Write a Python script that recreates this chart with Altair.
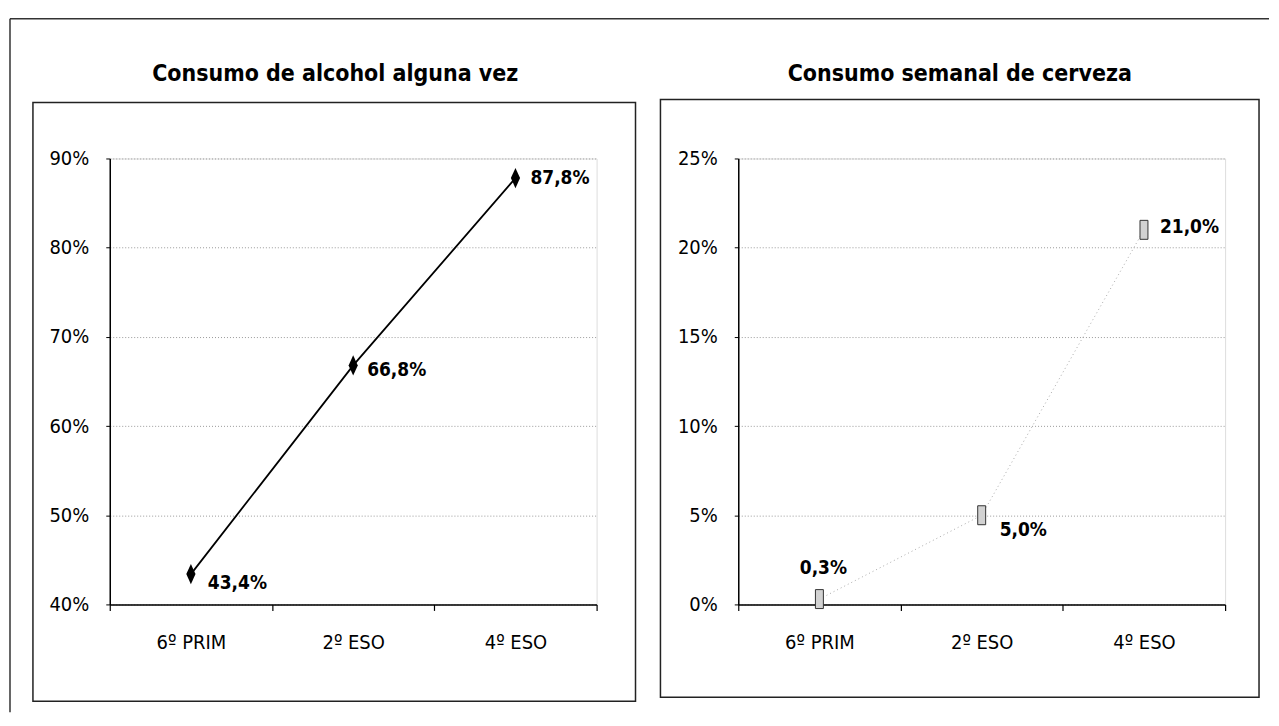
import altair as alt
import pandas as pd

# ---- data ----
grades = ["6º PRIM", "2º ESO", "4º ESO"]
alcohol = [43.4, 66.8, 87.8]
cerveza = [0.3, 5.0, 21.0]
alcohol_ticks = [40, 50, 60, 70, 80, 90]
cerveza_ticks = [0, 5, 10, 15, 20, 25]
titles = ["Consumo de alcohol alguna vez", "Consumo semanal de cerveza"]


def fmt(v):
    return f"{v:.1f}".replace(".", ",") + "%"


FONT = "Liberation Sans Narrow, Arial Narrow, DejaVu Sans Condensed, Liberation Sans, sans-serif"
W, H = 488, 447

df_a = pd.DataFrame({"grade": grades, "value": alcohol, "label": [fmt(v) for v in alcohol]})
df_c = pd.DataFrame({"grade": grades, "value": cerveza, "label": [fmt(v) for v in cerveza]})

DIAMOND = "M0,-1L0.45,0L0,1L-0.45,0Z"
BOXSHAPE = "M-0.42,-1L0.42,-1L0.42,1L-0.42,1Z"


def x_enc():
    return alt.X(
        "grade:N",
        sort=grades,
        scale=alt.Scale(type="band", paddingInner=0, paddingOuter=0),
        bandPosition=0.5,
        axis=alt.Axis(
            title=None, labelAngle=0, tickBand="extent", tickSize=6,
            tickColor="black", tickWidth=1.2, domainColor="black", domainWidth=1.5,
            labelFont=FONT, labelFontSize=20, labelColor="black", labelPadding=22,
            grid=False,
        ),
    )


def y_enc(domain, ticks):
    return alt.Y(
        "value:Q",
        scale=alt.Scale(domain=domain, nice=False, zero=False),
        axis=alt.Axis(
            title=None, values=ticks, labelExpr="datum.value + '%'",
            tickSize=4, tickColor="black", domainColor="black", domainWidth=1.5,
            labelFont=FONT, labelFontSize=20, labelColor="black", labelPadding=17,
            grid=True, gridColor="#9a9a9a", gridDash=[1, 2], gridWidth=1,
        ),
    )


def frame(x1, x2, y1, y2):
    return alt.Chart(alt.Data(values=[{}])).mark_rect(
        fill=None, stroke="#222", strokeWidth=1.5
    ).encode(x=alt.value(x1), x2=alt.value(x2), y=alt.value(y1), y2=alt.value(y2))


def title_mark(text, cx, cy):
    return alt.Chart(alt.Data(values=[{}])).mark_text(
        text=text, font=FONT, fontSize=23, fontWeight="bold", color="black",
        align="center", baseline="middle",
    ).encode(x=alt.value(cx), y=alt.value(cy))


def label_layer(df, grade, dx, dy, align, domain, ticks):
    return alt.Chart(df).transform_filter(
        alt.datum.grade == grade
    ).mark_text(
        font=FONT, fontSize=19, fontWeight="bold", color="black",
        align=align, baseline="middle", dx=dx, dy=dy,
    ).encode(x=x_enc(), y=y_enc(domain, ticks), text="label:N")


# ---- left panel ----
dom_a = [40, 90]
left = alt.layer(
    alt.Chart(alt.Data(values=[{}])).mark_rule(color="#333", strokeWidth=1.5).encode(
        x=alt.value(-100), x2=alt.value(1162), y=alt.value(-140)
    ),
    alt.Chart(alt.Data(values=[{}])).mark_rule(color="#333", strokeWidth=1.5).encode(
        x=alt.value(-100), y=alt.value(-140), y2=alt.value(555)
    ),
    frame(-77, 527, -56, 544),
    title_mark(titles[0], 226, -85),
    alt.Chart(df_a).mark_line(color="black", strokeWidth=1.8).encode(
        x=x_enc(), y=y_enc(dom_a, alcohol_ticks)
    ),
    alt.Chart(df_a).mark_point(
        shape=DIAMOND, size=420, filled=True, color="black", opacity=1
    ).encode(x=x_enc(), y=y_enc(dom_a, alcohol_ticks)),
    label_layer(df_a, grades[0], 17, 9, "left", dom_a, alcohol_ticks),
    label_layer(df_a, grades[1], 14, 5, "left", dom_a, alcohol_ticks),
    label_layer(df_a, grades[2], 15, 0, "left", dom_a, alcohol_ticks),
).properties(width=W, height=H)

# ---- right panel ----
dom_c = [0, 25]
right = alt.layer(
    frame(-78, 522, -59, 540),
    title_mark(titles[1], 222, -85),
    alt.Chart(df_c).mark_line(color="#aaaaaa", strokeWidth=1, strokeDash=[1, 3]).encode(
        x=x_enc(), y=y_enc(dom_c, cerveza_ticks)
    ),
    alt.Chart(df_c).mark_point(
        shape=BOXSHAPE, size=361, filled=True, fill="#d2d2d2", stroke="#333",
        strokeWidth=1, opacity=1
    ).encode(x=x_enc(), y=y_enc(dom_c, cerveza_ticks)),
    label_layer(df_c, grades[0], 4, -31, "center", dom_c, cerveza_ticks),
    label_layer(df_c, grades[1], 18, 15, "left", dom_c, cerveza_ticks),
    label_layer(df_c, grades[2], 16, -3, "left", dom_c, cerveza_ticks),
).properties(width=W, height=H)

chart = alt.hconcat(left, right, spacing=142, bounds="flush").resolve_scale(
    y="independent"
).properties(
    padding={"left": 0, "top": 8, "right": 0, "bottom": 0}
).configure_view(stroke=None).configure(background="white")

chart.save("out.html", embed_options={"renderer": "svg", "actions": False})
